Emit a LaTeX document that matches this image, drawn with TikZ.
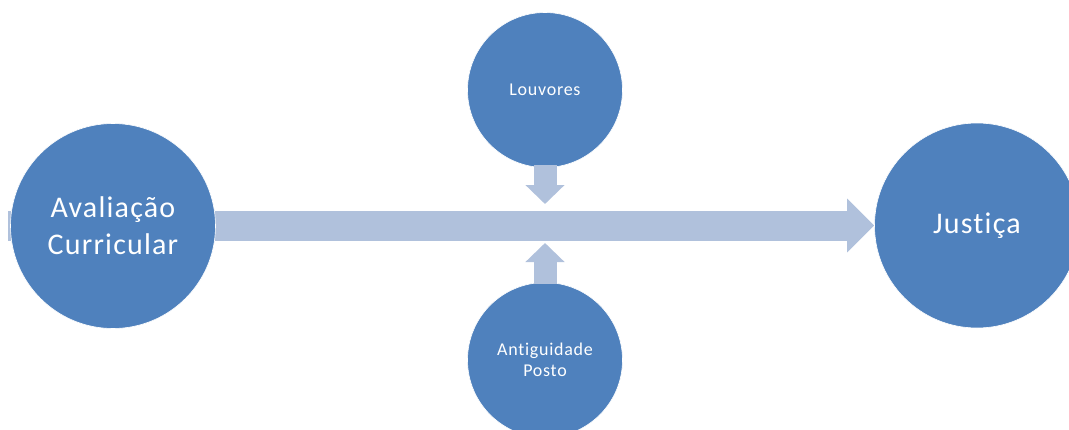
\documentclass[tikz,border=0pt]{standalone}
\usepackage{fontspec}
\setmainfont{Carlito}[Ligatures=NoCommon,LetterSpace=4]
\usetikzlibrary{arrows.meta,calc}
\definecolor{circblue}{HTML}{4F81BD}
\definecolor{arrblue}{HTML}{B0C1DC}
\tikzset{
  bigcirc/.style={circle,fill=circblue,draw=white,line width=0.6pt,minimum size=205pt,inner sep=0pt,text=white,align=center,font=\fontsize{30}{37}\selectfont},
  smallcirc/.style={circle,fill=circblue,draw=white,line width=0.6pt,minimum size=155pt,inner sep=0pt,text=white,align=center,font=\fontsize{18}{21.5}\selectfont},
  bigarrow/.style={arrblue,line width=30pt,-{Triangle[length=27pt,width=52pt]}},
  smallarrow/.style={arrblue,line width=23pt,-{Triangle[length=19pt,width=38pt]}}
}
\begin{document}
\begin{tikzpicture}[x=1pt,y=-1pt]
\useasboundingbox (0,0) rectangle (1069,429);
\clip (0,0) rectangle (1069,429);
\fill[white] (0,0) rectangle (1069,429);
% node positions
\coordinate (acpos) at (113,226);
\coordinate (jpos) at (977,225.5);
\coordinate (lvpos) at (545,90);
\coordinate (agpos) at (545,360);
\path (acpos) node[bigcirc, fill=none, draw=none] (ac0) {};
\path (jpos) node[bigcirc, fill=none, draw=none] (j0) {};
\coordinate (tail) at ($(ac0.west)+(-2,-0.5)$);
\coordinate (tip) at (j0.west);
\draw[bigarrow] (tail) -- (tail -| tip);
% circles
\node[bigcirc] (ac) at (acpos) {Avaliação\\Curricular};
\node[bigcirc] (j) at (jpos) {Justiça};
\node[smallcirc] (lv) at (lvpos) {Louvores};
\node[smallcirc] (ag) at (agpos) {Antiguidade\\Posto};
% small arrows
\coordinate (tA) at (545,204);
\coordinate (tB) at (545,243);
\draw[smallarrow] ([yshift=3pt]lv.south) -- (tA);
\draw[smallarrow] ([yshift=-2pt]ag.north) -- (tB);
\end{tikzpicture}
\end{document}
